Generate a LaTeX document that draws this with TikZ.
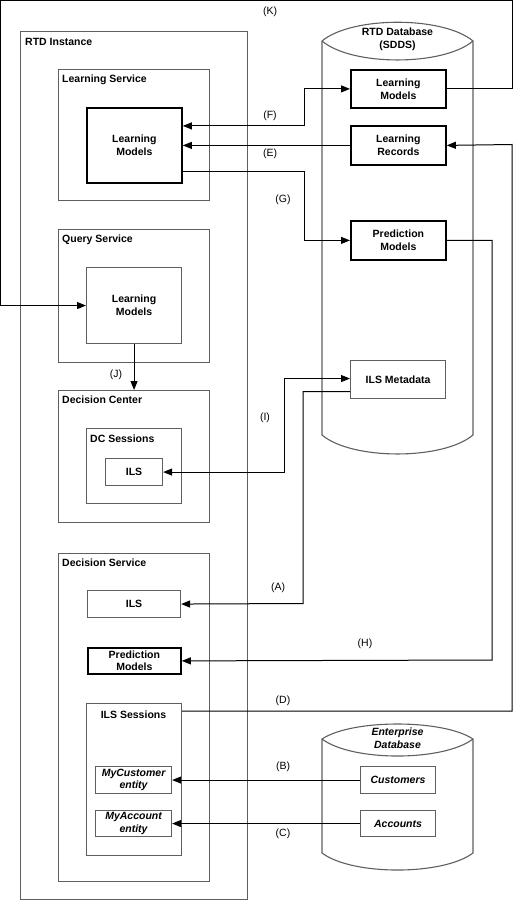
\documentclass[tikz,border=0pt]{standalone}
\usepackage{fontspec}
\setmainfont{Liberation Sans}
\usetikzlibrary{arrows.meta}
\definecolor{boxgray}{RGB}{95,95,95}
\begin{document}
\begin{tikzpicture}[x=1pt,y=-1pt,
  font=\fontsize{10.5}{13}\selectfont,
  frame/.style={draw=boxgray, line width=1.1pt, inner sep=0pt, anchor=north west},
  leaf/.style={frame, font=\fontsize{10.5}{13}\selectfont\bfseries, align=center},
  boldleaf/.style={leaf, draw=black, line width=1.8pt},
  ital/.style={leaf, font=\fontsize{10.5}{12.5}\selectfont\bfseries\itshape},
  title/.style={anchor=west, inner sep=0pt, font=\fontsize{10.5}{13}\selectfont\bfseries},
  lbl/.style={inner sep=0pt, font=\fontsize{10.5}{13}\selectfont},
  conn/.style={draw=black, line width=1pt, -{Triangle[length=9pt,width=7pt]}},
  conn2/.style={draw=black, line width=1pt, {Triangle[length=9pt,width=7pt]}-{Triangle[length=9pt,width=7pt]}},
  plain/.style={draw=black, line width=1pt},
  cyl/.style={draw=boxgray, line width=1.1pt}
]
\useasboundingbox (0,0) rectangle (513,901);

% containers
\node[frame, minimum width=227pt, minimum height=868pt] (inst) at (20,31) {};
\node[title] (instT) at (25,42) {RTD Instance};
\node[frame, minimum width=151pt, minimum height=131pt] (ls) at (58,69) {};
\node[title] (lsT) at (62,80) {Learning Service};
\node[frame, minimum width=151pt, minimum height=133pt] (qs) at (58,229) {};
\node[title] (qsT) at (62,240) {Query Service};
\node[frame, minimum width=151pt, minimum height=132pt] (dc) at (58,390) {};
\node[title] (dcT) at (62,400) {Decision Center};
\node[frame, minimum width=95pt, minimum height=75pt] (dcs) at (86,428) {};
\node[title] (dcsT) at (90,439) {DC Sessions};
\node[frame, minimum width=151pt, minimum height=328pt] (ds) at (58,553) {};
\node[title] (dsT) at (62,563) {Decision Service};
\node[frame, minimum width=95pt, minimum height=152pt] (ilss) at (86,703) {};
\node[title, anchor=center] (ilssT) at (133.5,715) {ILS Sessions};

% cylinders
\draw[cyl] (322,41) .. controls (352,16) and (443,16) .. (473,41)
  -- (473,435) .. controls (443,460.3) and (352,460.3) .. (322,435) -- cycle;
\draw[cyl] (322,41) .. controls (352,66.3) and (443,66.3) .. (473,41);
\node[lbl, font=\fontsize{10.5}{13}\selectfont\bfseries, align=center] (dbT) at (397.5,39.5) {RTD Database\\(SDDS)};
\draw[cyl] (322,739) .. controls (352,719) and (443,719) .. (473,739)
  -- (473,853) .. controls (443,875.7) and (352,875.7) .. (322,853) -- cycle;
\draw[cyl] (322,739) .. controls (352,761.7) and (443,761.7) .. (473,739);
\node[lbl, font=\fontsize{10.5}{13}\selectfont\bfseries\itshape, align=center] (edbT) at (397.5,738.5) {Enterprise\\Database};

% leaf boxes
\node[boldleaf, minimum width=95pt, minimum height=75pt] (lsLM) at (86,107) {Learning\\Models};
\node[leaf, minimum width=95pt, minimum height=76pt] (qsLM) at (86,267) {Learning\\Models};
\node[leaf, minimum width=57pt, minimum height=27pt] (dcILS) at (105,458) {ILS};
\node[leaf, minimum width=93pt, minimum height=27pt] (dsILS) at (87,590) {ILS};
\node[boldleaf, minimum width=93pt, minimum height=26pt, font=\fontsize{10.5}{12}\selectfont\bfseries] (dsPM) at (87,647) {Prediction\\Models};
\node[ital, minimum width=76pt, minimum height=27pt] (myc) at (95,766) {MyCustomer\\entity};
\node[ital, minimum width=76pt, minimum height=26pt] (mya) at (95,810) {MyAccount\\entity};

\node[boldleaf, minimum width=95pt, minimum height=38pt] (dbLM) at (350,69) {Learning\\Models};
\node[boldleaf, minimum width=95pt, minimum height=39pt] (dbLR) at (350,125) {Learning\\Records};
\node[boldleaf, minimum width=95pt, minimum height=39pt] (dbPM) at (350,220) {Prediction\\Models};
\node[leaf, minimum width=95pt, minimum height=38pt] (dbILS) at (350,360) {ILS Metadata};
\node[ital, minimum width=75pt, minimum height=27pt] (cust) at (360,766) {Customers};
\node[ital, minimum width=75pt, minimum height=26pt] (acct) at (360,810) {Accounts};

% connectors
\coordinate (kTR) at (512,1);
\coordinate (kTL) at (0.5,1);
\draw[conn] (dbLM.east) -| (kTR) -- (kTL) |- (qsLM.west);
\node[lbl] (Kl) at (270,12) {(K)};

\draw[conn2] ([yshift=19.5pt]lsLM.east) -- ++(122,0) |- (dbLM.west);
\node[lbl] (Fl) at (270,116) {(F)};

\draw[conn] (dbLR.west) -- (lsLM.east);
\node[lbl] (El) at (270,154) {(E)};

\draw[conn] ([yshift=-26.5pt]lsLM.east) -- ++(122,0) |- (dbPM.west);
\node[lbl] (Gl) at (283,200) {(G)};

\draw[conn] (qsLM.south) -- (dc.north);
\node[lbl] (Jl) at (116,375) {(J)};

\draw[conn2] (dcILS.east) -- ++(121,0) |- ([yshift=1pt]dbILS.west);
\node[lbl] (Il) at (265,418) {(I)};

\coordinate (aC) at (303,603.5);
\draw[conn] ([yshift=-12pt]dbILS.west) -| (aC) -- (dsILS.east);
\node[lbl] (Al) at (278,588) {(A)};

\coordinate (hC) at (492,660);
\draw[conn] (dbPM.east) -| (hC) -- (dsPM.east);
\node[lbl] (Hl) at (365,644) {(H)};

\coordinate (dC) at (512,144.5);
\draw[conn] ([yshift=-8pt]ilss.north east) -| (dC) -- (dbLR.east);
\node[lbl] (Dl) at (283,701) {(D)};

\draw[conn] (cust.west) -- (myc.east);
\node[lbl] (Bl) at (283,767) {(B)};
\draw[conn] (acct.west) -- (mya.east);
\node[lbl] (Cl) at (283,834) {(C)};
\end{tikzpicture}
\end{document}
